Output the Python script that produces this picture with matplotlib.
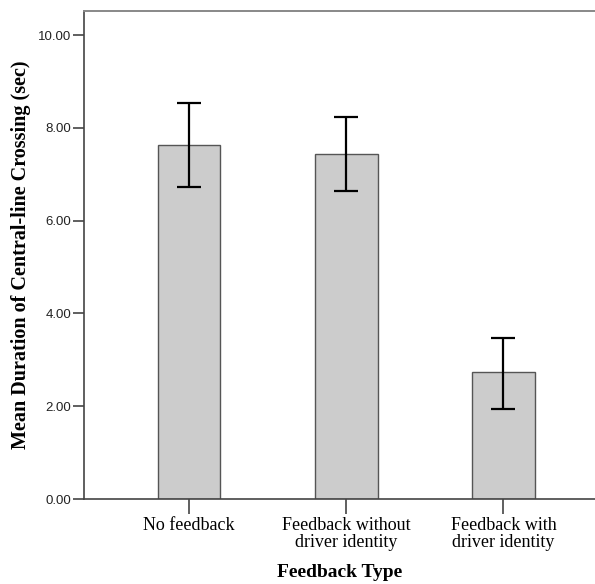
import matplotlib
matplotlib.use("Agg")
from matplotlib import pyplot as plt

categories = ["No feedback", "Feedback without\ndriver identity", "Feedback with\ndriver identity"]
means = [7.63, 7.44, 2.73]
ci_low = [6.72, 6.64, 1.94]
ci_high = [8.53, 8.23, 3.47]
y_ticks = [0, 2, 4, 6, 8, 10]

fig = plt.figure(figsize=(5.95, 5.84), dpi=100)
ax = fig.add_axes([84 / 595, 1 - 499 / 584, 1 - 84 / 595, (499 - 11) / 584])

x = range(len(categories))
err = [[m - lo for m, lo in zip(means, ci_low)],
       [hi - m for m, hi in zip(means, ci_high)]]
ax.bar(x, means, width=0.40, color="#cccccc", edgecolor="#555555", linewidth=1.0, zorder=2)
ax.errorbar(x, means, yerr=err, fmt="none", ecolor="black", elinewidth=1.6,
            capsize=8.6, capthick=1.6, zorder=3)

ax.set_xlim(-0.668, 2.582)
ax.set_ylim(0, 10.52)
ax.set_yticks(y_ticks)
ax.set_yticklabels([f"{v:.2f}" for v in y_ticks], fontfamily="Liberation Sans", fontsize=9.5, color="#222222")
ax.set_xticks(list(x))
ax.set_xticklabels(categories, fontfamily="Liberation Serif", fontsize=13, linespacing=1.0)

ax.tick_params(axis="y", direction="out", length=8, width=1.2, color="#444444", pad=1)
ax.tick_params(axis="x", direction="out", length=11, width=1.2, color="#444444", pad=2)

for side in ["left", "bottom"]:
    ax.spines[side].set_color("#444444")
    ax.spines[side].set_linewidth(1.2)
ax.spines["top"].set_color("#888888")
ax.spines["top"].set_linewidth(1.4)
ax.spines["right"].set_visible(False)

ax.set_xlabel("Feedback Type", fontfamily="Liberation Serif", fontweight="bold", fontsize=14, labelpad=9)
ax.set_ylabel("Mean Duration of Central-line Crossing (sec)", fontfamily="Liberation Serif",
              fontweight="bold", fontsize=14.5, labelpad=5)

plt.savefig("out.png", dpi=100)
plt.close()
